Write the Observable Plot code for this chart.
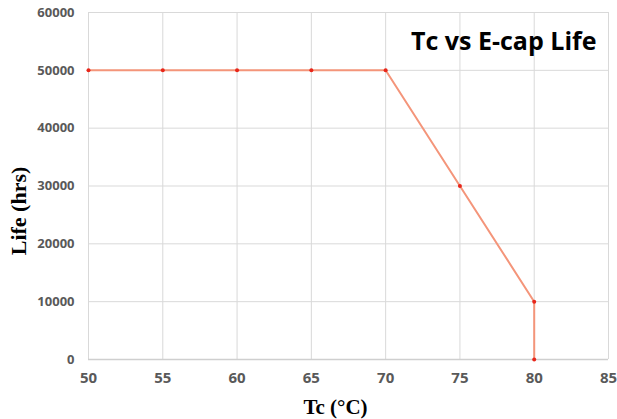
<!DOCTYPE html>
<html><head><meta charset="utf-8">
<script src="https://cdn.jsdelivr.net/npm/d3@7"></script>
<script src="https://cdn.jsdelivr.net/npm/@observablehq/plot@0.6"></script>
<style>body{margin:0;background:#fff;} svg{display:block;}</style>
</head><body><div id="chart"></div>
<script>
const tc = [50, 55, 60, 65, 70, 75, 80, 80];
const life = [50000, 50000, 50000, 50000, 50000, 30000, 10000, 0];
const xTicks = [50, 55, 60, 65, 70, 75, 80, 85];
const yTicks = [0, 10000, 20000, 30000, 40000, 50000, 60000];
const title = "Tc vs E-cap Life";
const data = tc.map((t, i) => ({tc: t, life: life[i]}));

const chart = Plot.plot({
  width: 617, height: 419,
  marginLeft: 88, marginRight: 9, marginTop: 12, marginBottom: 60,
  style: {fontFamily: "Open Sans, sans-serif", background: "#fff"},
  x: {domain: [50, 85], ticks: xTicks, label: null},
  y: {domain: [0, 60000], ticks: yTicks, label: null},
  marks: [
    Plot.gridX(xTicks, {stroke: "#d9d9d9", strokeOpacity: 1, strokeWidth: 1}),
    Plot.gridY(yTicks, {stroke: "#d9d9d9", strokeOpacity: 1, strokeWidth: 1}),
    Plot.ruleY([0], {stroke: "#cfcfcf", strokeWidth: 1.5}),
    Plot.axisX(xTicks, {tickSize: 0, tickPadding: 13, fontSize: 15, fontWeight: "bold", fill: "#595959", label: null}),
    Plot.axisY(yTicks, {tickSize: 0, tickPadding: 14, fontSize: 13, fontWeight: "bold", fill: "#595959", label: null, tickFormat: d => String(d)}),
    Plot.line(data, {x: "tc", y: "life", stroke: "#f4957a", strokeWidth: 2}),
    Plot.dot(data, {x: "tc", y: "life", r: 2, fill: "#e8261a"}),
    Plot.text([title], {frameAnchor: "top-right", dx: -12, dy: 20, fontSize: 25, fontWeight: "bold", fill: "#000", fontFamily: "Open Sans, sans-serif", textAnchor: "end"}),
    Plot.text(["Tc (°C)"], {frameAnchor: "bottom", dx: -13, dy: 54, fontSize: 21, fontWeight: "bold", fill: "#000", fontFamily: "Liberation Serif, serif"}),
    Plot.text(["Life (hrs)"], {frameAnchor: "left", dx: -70, dy: 25, rotate: -90, textAnchor: "middle", fontSize: 22, fontWeight: "bold", fill: "#000", fontFamily: "Liberation Serif, serif"})
  ]
});
document.getElementById("chart").append(chart);
</script></body></html>
